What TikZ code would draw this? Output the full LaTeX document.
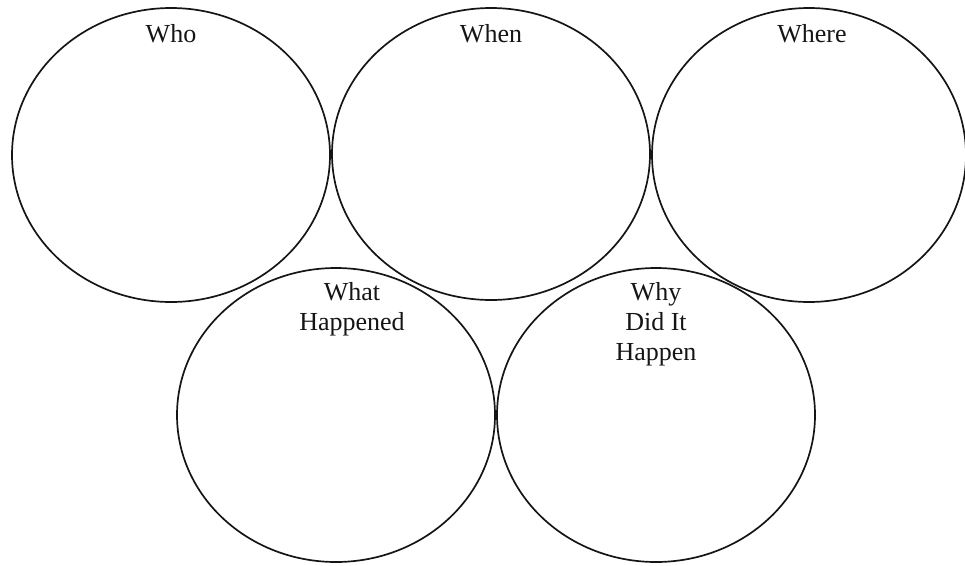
\documentclass[tikz,border=0pt]{standalone}
\usepackage{fontspec}
\setmainfont{Liberation Serif}
\usepackage{tikz}
\usetikzlibrary{shapes.geometric,positioning}
\definecolor{ink}{HTML}{151515}
\tikzset{
  ring/.style={draw=ink,ellipse,line width=1.7pt,inner sep=0pt,minimum width=318pt,minimum height=294pt},
  ttl/.style={font=\fontsize{26}{30}\selectfont,text=ink,align=center,inner sep=0pt,anchor=north},
}

\begin{document}
\begin{tikzpicture}[x=1pt,y=-1pt]
\useasboundingbox (0,0) rectangle (965,565);
% top row
\node[ring] (who) at (171,155) {};
\node[ring,minimum height=292pt] (when) at (491,154) {};
\node[ring,minimum width=314pt] (where) at (809,155) {};
% bottom row
\node[ring] (what) at (336,415) {};
\node[ring] (why) at (656,415) {};
% titles
\node[ttl,below=17pt of who.north] (whoT) {Who};
\node[ttl,below=17pt of when.north] (whenT) {When};
\node[ttl,below=17pt of where.north,xshift=3pt] (whereT) {Where};
\node[ttl,below=15pt of what.north,xshift=16pt] (whatT) {What\\Happened};
\node[ttl,below=15pt of why.north] (whyT) {Why\\Did It\\Happen};
\end{tikzpicture}
\end{document}
